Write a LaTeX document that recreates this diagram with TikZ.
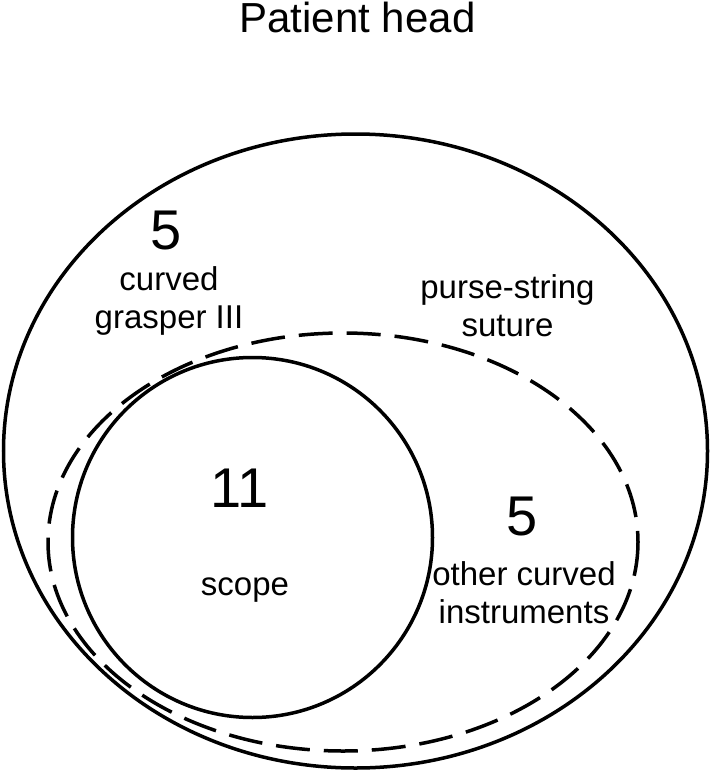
\documentclass[tikz,border=0pt]{standalone}
\usepackage{fontspec}
\setmainfont{Liberation Sans}
\begin{document}
\begin{tikzpicture}[x=1bp,y=-1bp,
  setline/.style={line width=3.5bp},
  dashline/.style={line width=3.5bp,dash pattern=on 34bp off 14bp},
  lbl/.style={anchor=base,align=center,inner sep=0pt,font=\fontsize{33bp}{38bp}\selectfont},
  num/.style={anchor=base,inner sep=0pt,font=\fontsize{56bp}{60bp}\selectfont}]
\useasboundingbox (0,0) rectangle (711,774);
% the three sets
\draw[setline] (355.5,451) ellipse [x radius=352, y radius=317];
\draw[dashline] (343,542) ellipse [x radius=295, y radius=209];
\draw[setline] (252.5,537.5) circle [radius=180];
% labels
\node[lbl,font=\fontsize{42bp}{46bp}\selectfont] (title) at (357.5,33) {Patient head};
\node[num] (numgrasper) at (166,249) {5};
\node[lbl] (grasper) at (169,328) {curved\\grasper III};
\node[lbl] (suture) at (507.5,336) {purse-string\\suture};
\node[num] (numscope) at (239.5,507) {11};
\node[lbl] (scope) at (245,595) {scope};
\node[num] (numother) at (522,535) {5};
\node[lbl] (other) at (524,623) {other curved\\instruments};
\end{tikzpicture}
\end{document}
